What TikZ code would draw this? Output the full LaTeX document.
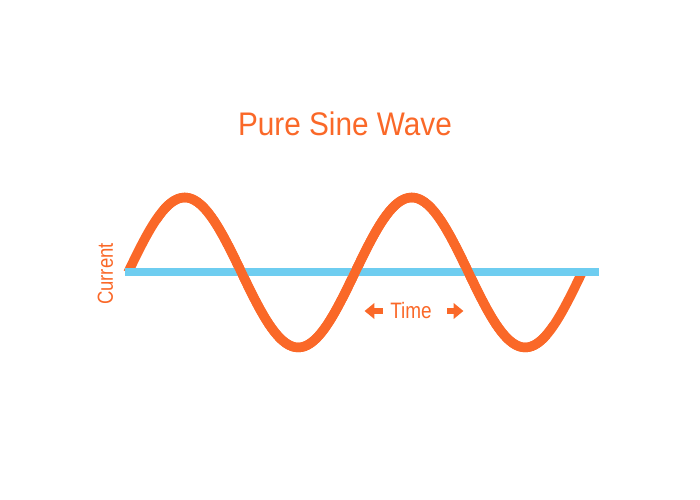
\documentclass[tikz,border=0pt]{standalone}
\usepackage{fontspec}
\setmainfont{Liberation Sans}
\newfontfamily\titlefont[FakeStretch=0.91]{Liberation Sans}
\newfontfamily\labelfont[FakeStretch=0.85]{Liberation Sans}
\usetikzlibrary{arrows.meta}
\definecolor{waveorange}{RGB}{250,104,40}
\definecolor{axisblue}{RGB}{110,205,240}

\begin{document}
\begin{tikzpicture}[
  wave/.style={line width=2.7pt, waveorange},
  timeaxis/.style={line width=2.4pt, axisblue},
  label/.style={text=waveorange, inner sep=0pt},
  timearrow/.style={line width=1.7pt, waveorange,
    -{Triangle[length=2.8pt, width=4.4pt]}}
]
  \useasboundingbox (0,0) rectangle (7,5);
  % Title
  \node[label, font=\titlefont\fontsize{9.3}{11}\selectfont, anchor=base]
    (title) at (3.45,3.64) {Pure Sine Wave};
  % Two periods of the wave
  \draw[wave] plot[domain=0:720, samples=145, smooth]
    ({1.28+\x/360*2.27}, {2.275+0.75*sin(\x)});
  % Time axis, covering the two ends of the wave
  \draw[timeaxis] (1.25,2.28) -- (5.99,2.28);
  % Wave again over the axis away from the ends
  \begin{scope}
    \clip (1.6,0) rectangle (5.5,5);
    \draw[wave] plot[domain=0:720, samples=145, smooth]
      ({1.28+\x/360*2.27}, {2.275+0.75*sin(\x)});
  \end{scope}
  % Axis labels
  \node[label, font=\labelfont\fontsize{6.2}{7}\selectfont, rotate=90, anchor=base]
    (current) at (1.13,2.26) {Current};
  \node[label, font=\labelfont\fontsize{6.35}{7}\selectfont, anchor=base]
    (time) at (4.11,1.81) {Time};
  \coordinate (tl) at ([xshift=-0.07cm]time.west);
  \coordinate (tr) at ([xshift=0.15cm]time.east);
  \draw[timearrow] (tl) -- ++(-0.18,0);
  \draw[timearrow] (tr) -- ++(0.16,0);
\end{tikzpicture}
\end{document}
